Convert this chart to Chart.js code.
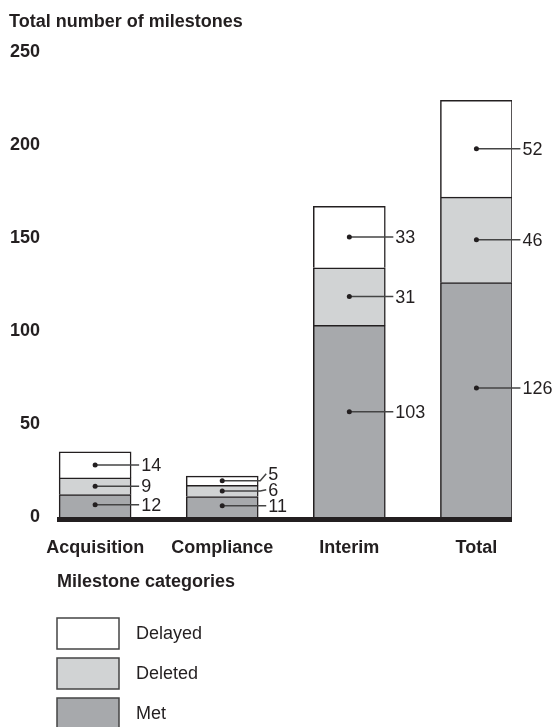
<!DOCTYPE html>
<html>
<head>
<meta charset="utf-8">
<script src="https://cdn.jsdelivr.net/npm/chart.js@4.4.0/dist/chart.umd.min.js"></script>
<style>
  body { margin: 0; background: #fff; }
  canvas { display: block; }
</style>
</head>
<body>
<canvas id="milestonesChart" width="554" height="727"></canvas>
<script>
const categories = ["Acquisition", "Compliance", "Interim", "Total"];
const met = [12, 11, 103, 126];
const deleted = [9, 6, 31, 46];
const delayed = [14, 5, 33, 52];
const yTicks = [0, 50, 100, 150, 200, 250];

const ink = "#231f20";
const font = "'Liberation Sans', Arial, Helvetica, sans-serif";

function toPoints(values) {
  return values.map((v, i) => ({ x: i, y: v }));
}

// titulos, linea base, etiquetas y leyenda
const extras = {
  id: "extras",
  afterDatasetsDraw(chart) {
    const ctx = chart.ctx;
    const area = chart.chartArea;
    const yScale = chart.scales.y;
    ctx.save();

    // linea base gruesa
    ctx.fillStyle = ink;
    ctx.fillRect(area.left, yScale.getPixelForValue(0), area.right - area.left, 5);

    // etiquetas con punto y linea
    ctx.font = "18px " + font;
    ctx.textBaseline = "middle";
    ctx.textAlign = "left";
    const lastLabelY = [];
    chart.data.datasets.forEach((ds, d) => {
      const meta = chart.getDatasetMeta(d);
      meta.data.forEach((bar, i) => {
        const frac = d === 0 ? 0.55 : 0.5;
        const dotY = bar.base - (bar.base - bar.y) * frac;
        let labelY = dotY;
        if (lastLabelY[i] !== undefined) labelY = Math.min(dotY, lastLabelY[i] - 16);
        lastLabelY[i] = labelY;
        const right = bar.x + bar.width / 2;
        const lineEnd = right + 8;

        ctx.strokeStyle = "#444";
        ctx.lineWidth = 1.5;
        ctx.beginPath();
        ctx.moveTo(bar.x, dotY);
        if (labelY !== dotY) {
          ctx.lineTo(right + 2, dotY);
          ctx.lineTo(lineEnd, labelY);
        } else {
          ctx.lineTo(lineEnd, dotY);
        }
        ctx.stroke();

        ctx.fillStyle = ink;
        ctx.beginPath();
        ctx.arc(bar.x, dotY, 2.5, 0, Math.PI * 2);
        ctx.fill();

        ctx.fillText(String(ds.data[i].y), lineEnd + 2, labelY + 1);
      });
    });

    // textos en negrita
    ctx.textBaseline = "alphabetic";
    ctx.font = "bold 18px " + font;
    ctx.fillText("Total number of milestones", 9, 27);
    ctx.fillText("Milestone categories", 57, 587);

    // leyenda
    const order = chart.data.datasets.slice().reverse();
    order.forEach((ds, k) => {
      const top = 618 + k * 40;
      ctx.fillStyle = ds.backgroundColor;
      ctx.fillRect(57, top, 62, 31);
      ctx.strokeStyle = "#444";
      ctx.lineWidth = 1.5;
      ctx.strokeRect(57, top, 62, 31);
      ctx.fillStyle = ink;
      ctx.font = "18px " + font;
      ctx.textBaseline = "middle";
      ctx.fillText(ds.label, 136, top + 16);
    });

    ctx.restore();
  }
};

const barStyle = {
  borderColor: ink,
  borderWidth: 1.5,
  borderSkipped: "bottom",
  barThickness: 72
};

new Chart(document.getElementById("milestonesChart"), {
  type: "bar",
  data: {
    datasets: [
      Object.assign({ label: "Met", data: toPoints(met), backgroundColor: "#a7a9ac" }, barStyle),
      Object.assign({ label: "Deleted", data: toPoints(deleted), backgroundColor: "#d1d3d4" }, barStyle),
      Object.assign({ label: "Delayed", data: toPoints(delayed), backgroundColor: "#ffffff" }, barStyle)
    ]
  },
  options: {
    responsive: false,
    animation: false,
    layout: { padding: { left: 8, right: 42, top: 52, bottom: 160 } },
    plugins: {
      legend: { display: false },
      tooltip: { enabled: false }
    },
    scales: {
      x: {
        type: "linear",
        stacked: true,
        offset: false,
        min: -0.3,
        max: 3.28,
        grid: { display: false, drawTicks: false, offset: false },
        border: { display: false },
        afterBuildTicks: axis => { axis.ticks = categories.map((c, i) => ({ value: i })); },
        afterFit: axis => { axis.height = 50; },
        ticks: {
          autoSkip: false,
          maxRotation: 0,
          padding: 20,
          color: ink,
          font: { family: font, size: 18, weight: "bold" },
          callback: v => categories[v]
        }
      },
      y: {
        stacked: true,
        min: 0,
        max: 250,
        grid: { display: false, drawTicks: false },
        border: { display: false },
        afterBuildTicks: axis => { axis.ticks = yTicks.map(v => ({ value: v })); },
        afterFit: axis => { axis.width = 49; },
        ticks: {
          padding: 17,
          color: ink,
          font: { family: font, size: 18, weight: "bold" }
        }
      }
    }
  },
  plugins: [extras]
});
</script>
</body>
</html>
